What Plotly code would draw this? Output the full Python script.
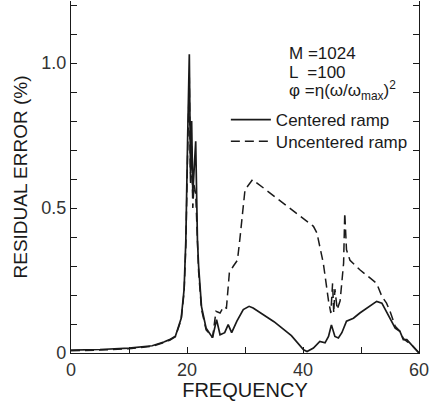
import plotly.graph_objects as go

# Centered ramp (solid)
freq_c = [0, 5, 10, 14, 16, 17, 18, 19, 19.5, 19.8, 20.1, 20.4, 20.6, 20.8, 21.0, 21.2, 21.5, 21.8, 22.0, 22.5, 23.3,
          24.4, 25.1, 25.7, 26.5, 27.1, 27.7, 28.6, 29.7, 30.7, 31.4, 35.0, 38.0, 40.1, 40.7, 41.8, 42.9, 43.8, 44.4,
          44.9, 45.5, 46.1, 46.7, 47.5, 48.7, 49.8, 51.0, 52.7, 53.6, 54.7, 55.9, 56.7, 57.3, 57.9, 58.7, 60]
err_c = [0.010, 0.012, 0.017, 0.025, 0.038, 0.046, 0.058, 0.12, 0.22, 0.39, 0.73, 1.03, 0.62, 0.80, 0.55, 0.62, 0.73, 0.39, 0.30, 0.16, 0.085,
         0.053, 0.115, 0.063, 0.070, 0.098, 0.070, 0.110, 0.150, 0.161, 0.155, 0.108, 0.060, 0.011, 0.005, 0.017, 0.040, 0.035, 0.057,
         0.097, 0.057, 0.052, 0.070, 0.110, 0.120, 0.138, 0.155, 0.178, 0.172, 0.132, 0.086, 0.075, 0.046, 0.046, 0.029, 0.0]

# Uncentered ramp (dashed)
freq_u = [0, 5, 10, 14, 16, 17, 18, 19, 19.5, 19.8, 20.1, 20.4, 20.6, 20.8, 21.0, 21.2, 21.5, 21.8, 22.0, 22.5, 23.3,
          24.4, 25.0, 25.7, 26.3, 26.8, 27.3, 28.0, 28.7, 29.1, 30.0, 31.3, 36.0, 41.8, 42.4, 43.5, 44.4, 44.8, 45.1,
          45.3, 45.5, 45.9, 46.4, 47.0, 47.2, 47.5, 48.1, 49.8, 51.6, 52.7, 53.6, 54.4, 55.0, 55.9, 56.7, 57.3, 57.9, 58.7, 60]
err_u = [0.008, 0.010, 0.015, 0.023, 0.036, 0.044, 0.056, 0.115, 0.21, 0.37, 0.68, 0.95, 0.58, 0.72, 0.50, 0.58, 0.55, 0.36, 0.28, 0.15, 0.08,
         0.053, 0.144, 0.138, 0.160, 0.155, 0.276, 0.300, 0.320, 0.390, 0.563, 0.598, 0.525, 0.437, 0.414, 0.310, 0.180, 0.138, 0.240,
         0.138, 0.220, 0.150, 0.180, 0.310, 0.483, 0.356, 0.320, 0.287, 0.258, 0.240, 0.195, 0.172, 0.144, 0.092, 0.075, 0.050, 0.040, 0.029, 0.0]

x_tickvals = [0, 20, 40, 60]
x_ticktext = ["0", "20", "40", "60"]
y_tickvals = [0, 0.5, 1.0]
y_ticktext = ["0", "0.5", "1.0"]

ink = "#1a1a1a"
font_family = "Liberation Sans, Arial, sans-serif"

fig = go.Figure()
fig.add_trace(go.Scatter(x=freq_c, y=err_c, mode="lines", name="Centered ramp",
                         line=dict(color=ink, width=1.7), legend="legend"))
fig.add_trace(go.Scatter(x=freq_u, y=err_u, mode="lines", name="Uncentered ramp",
                         line=dict(color=ink, width=1.5, dash="9px,5px"), legend="legend2"))

leg_common = dict(xanchor="left", yanchor="middle", bgcolor="rgba(0,0,0,0)",
                  font=dict(size=17, color=ink), itemwidth=40)

fig.update_layout(
    width=434, height=401,
    margin=dict(l=71, r=15, t=1, b=48),
    paper_bgcolor="white", plot_bgcolor="white",
    font=dict(family=font_family, color=ink, size=18),
    showlegend=True,
    legend=dict(x=0.445, y=0.662, **leg_common),
    legend2=dict(x=0.445, y=0.600, **leg_common),
    annotations=[
        dict(text="M =1024", x=0.62, y=0.85, xref="paper", yref="paper",
             xanchor="left", yanchor="middle", showarrow=False, font=dict(size=17)),
        dict(text="L  =100", x=0.62, y=0.797, xref="paper", yref="paper",
             xanchor="left", yanchor="middle", showarrow=False, font=dict(size=17)),
        dict(text="φ =η(ω/ω<sub>max</sub>)<sup>2</sup>", x=0.62, y=0.745, xref="paper", yref="paper",
             xanchor="left", yanchor="middle", showarrow=False, font=dict(size=17)),
    ],
)
fig.update_xaxes(range=[0, 60], tickvals=x_tickvals, ticktext=x_ticktext,
                 ticks="inside", ticklen=6, tickcolor=ink, showline=True, linecolor=ink,
                 minor=dict(dtick=10, tick0=0, ticks="inside", ticklen=6, tickcolor=ink),
                 linewidth=1.2, showgrid=False, zeroline=False,
                 title=dict(text="FREQUENCY", standoff=2, font=dict(size=20)),
                 tickfont=dict(size=18, color="#333"))
fig.update_yaxes(range=[0, 1.214], tickvals=y_tickvals, ticktext=y_ticktext,
                 ticks="inside", ticklen=6, tickcolor=ink, showline=True, linecolor=ink,
                 minor=dict(dtick=0.1, tick0=0, ticks="inside", ticklen=6, tickcolor=ink),
                 linewidth=1.2, mirror="ticks", showgrid=False, zeroline=False,
                 title=dict(text="RESIDUAL ERROR (%)", standoff=8, font=dict(size=19)),
                 tickfont=dict(size=18, color="#333"))

fig.write_html("out.html", config={"displayModeBar": False},
               post_script="document.body.style.margin='0';document.body.style.padding='0';window.dispatchEvent(new Event('resize'));")
